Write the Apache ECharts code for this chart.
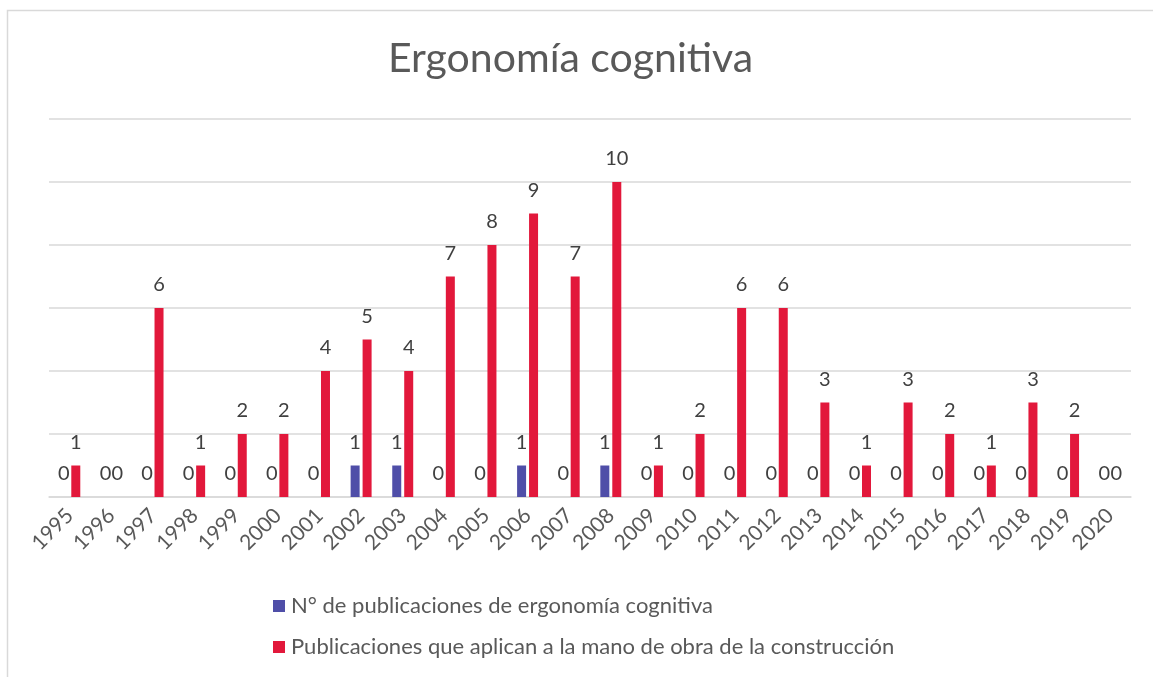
<!DOCTYPE html>
<html>
<head>
<meta charset="utf-8">
<script src="https://cdn.jsdelivr.net/npm/echarts@6/dist/echarts.min.js"></script>
<style>
  html, body { margin: 0; padding: 0; background: #ffffff; }
  #chart { width: 1153px; height: 677px; }
</style>
</head>
<body>
<div id="chart"></div>
<script>
// Years on the category axis
const years = ['1995','1996','1997','1998','1999','2000','2001','2002','2003','2004','2005','2006','2007',
               '2008','2009','2010','2011','2012','2013','2014','2015','2016','2017','2018','2019','2020'];

// Number of publications on cognitive ergonomics
const ergonomiaCognitiva = [0,0,0,0,0,0,0,1,1,0,0,1,0,1,0,0,0,0,0,0,0,0,0,0,0,0];

// Publications applied to the construction workforce
const manoDeObra = [1,0,6,1,2,2,4,5,4,7,8,9,7,10,1,2,6,6,3,1,3,2,1,3,2,0];

const seriesNames = [
  'N° de publicaciones de ergonomía cognitiva',
  'Publicaciones que aplican a la mano de obra de la construcción'
];

const FONT = 'Lato, "Open Sans", sans-serif';
const GRID_COLOR = '#d9d9d9';

const chart = echarts.init(document.getElementById('chart'), null, { renderer: 'canvas' });

const valueLabel = {
  show: true,
  position: 'top',
  distance: 13,
  fontFamily: FONT,
  fontSize: 20,
  color: '#404040'
};

chart.setOption({
  backgroundColor: '#ffffff',
  animation: false,
  graphic: [{
    type: 'rect',
    shape: { x: 7.5, y: 10.5, width: 1200, height: 700 },
    style: { fill: 'none', stroke: GRID_COLOR, lineWidth: 1.5 },
    silent: true,
    z: -1
  }],
  title: {
    text: 'Ergonomía cognitiva',
    left: 383,
    top: 33,
    textStyle: { fontFamily: FONT, fontSize: 41, fontWeight: 'normal', color: '#595959' }
  },
  legend: {
    orient: 'vertical',
    left: 268,
    top: 590,
    itemWidth: 12,
    itemHeight: 12,
    itemGap: 19,
    icon: 'rect',
    textStyle: { fontFamily: FONT, fontSize: 22, color: '#595959', padding: [0, 0, 0, 1] },
    data: seriesNames
  },
  grid: { left: 49, right: 22, top: 119, bottom: 180, containLabel: false },
  xAxis: {
    type: 'category',
    data: years,
    axisLine: { show: true, lineStyle: { color: GRID_COLOR, width: 1.5 } },
    axisTick: { show: false },
    axisLabel: {
      rotate: 45,
      interval: 0,
      margin: 15,
      fontFamily: FONT,
      fontSize: 21,
      color: '#595959'
    }
  },
  yAxis: {
    type: 'value',
    min: 0,
    max: 12,
    interval: 2,
    axisLine: { show: false },
    axisTick: { show: false },
    axisLabel: { show: false },
    splitLine: { lineStyle: { color: GRID_COLOR, width: 1.5 } }
  },
  series: [
    {
      name: seriesNames[0],
      type: 'bar',
      data: ergonomiaCognitiva,
      barWidth: 9,
      barGap: '33%',
      itemStyle: { color: '#4f4ea8' },
      label: valueLabel
    },
    {
      name: seriesNames[1],
      type: 'bar',
      data: manoDeObra,
      barWidth: 9,
      itemStyle: { color: '#e2183b' },
      label: valueLabel
    }
  ]
});
</script>
</body>
</html>
